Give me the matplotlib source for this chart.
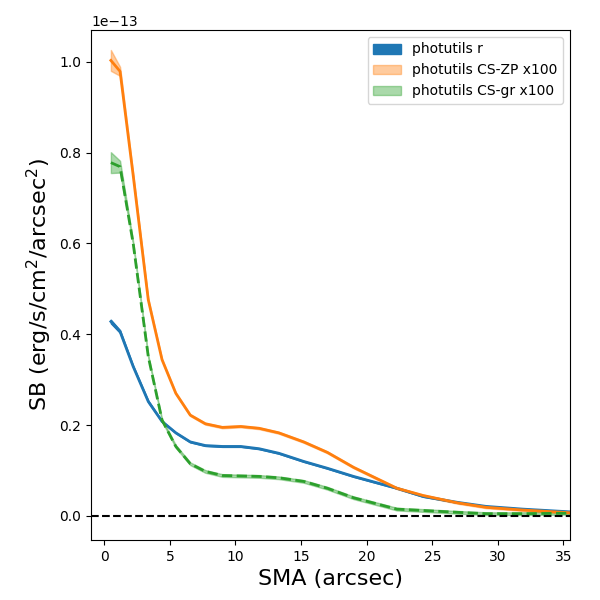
#!/usr/bin/env python3
"""Surface brightness profiles: photutils r vs scaled CS-ZP / CS-gr profiles."""
import numpy as np
import matplotlib
matplotlib.use("Agg")
import matplotlib.pyplot as plt

# semi-major axis (arcsec)
sma = [0.5, 1.2, 2.2, 3.35, 4.4, 5.45, 6.55, 7.7, 9.0, 10.4, 11.8,
       13.3, 15.2, 17.0, 19.0, 22.3, 24.3, 26.9, 29.1, 31.9, 35.5]

# surface brightness, in units of 1e-13 erg/s/cm2/arcsec2
sb_r = [0.428, 0.406, 0.329, 0.252, 0.208, 0.183, 0.163, 0.155, 0.153, 0.153, 0.148,
        0.138, 0.120, 0.105, 0.087, 0.061, 0.043, 0.030, 0.021, 0.015, 0.009]
sb_zp = [1.003, 0.979, 0.750, 0.476, 0.344, 0.270, 0.222, 0.203, 0.195, 0.197, 0.193,
         0.183, 0.163, 0.140, 0.107, 0.061, 0.045, 0.029, 0.019, 0.013, 0.007]
sb_gr = [0.778, 0.769, 0.600, 0.351, 0.211, 0.153, 0.115, 0.098, 0.089, 0.088, 0.087,
         0.084, 0.076, 0.061, 0.040, 0.015, 0.012, 0.008, 0.005, 0.005, 0.006]

# uncertainties (same units)
err_r = [0.004, 0.003, 0.002, 0.002, 0.001, 0.001, 0.001, 0.001, 0.001, 0.001, 0.001,
         0.001, 0.001, 0.001, 0.001, 0.001, 0.001, 0.001, 0.001, 0.001, 0.001]
err_zp = [0.023, 0.010, 0.004, 0.003, 0.002, 0.002, 0.002, 0.002, 0.002, 0.002, 0.002,
          0.002, 0.002, 0.002, 0.002, 0.002, 0.002, 0.002, 0.002, 0.002, 0.002]
err_gr = [0.023, 0.013, 0.004, 0.003, 0.003, 0.003, 0.003, 0.003, 0.003, 0.003, 0.003,
          0.003, 0.003, 0.003, 0.003, 0.003, 0.003, 0.003, 0.003, 0.003, 0.003]

SCALE = 1e-13

x = np.array(sma)
r = np.array(sb_r) * SCALE
zp = np.array(sb_zp) * SCALE
gr = np.array(sb_gr) * SCALE
er = np.array(err_r) * SCALE
ezp = np.array(err_zp) * SCALE
egr = np.array(err_gr) * SCALE

fig = plt.figure(figsize=(6, 6), dpi=100)
ax = fig.add_axes([0.152, 0.1, 0.798, 0.85])

ax.fill_between(x, r - er, r + er, color="C0", alpha=1.0, label="photutils r")
ax.plot(x, r, color="C0", lw=2)
ax.fill_between(x, zp - ezp, zp + ezp, color="C1", alpha=0.4, label="photutils CS-ZP x100")
ax.plot(x, zp, color="C1", lw=2)
ax.fill_between(x, gr - egr, gr + egr, color="C2", alpha=0.4, label="photutils CS-gr x100")
ax.plot(x, gr, color="C2", lw=2, ls="--")

ax.axhline(0, color="k", ls="--", lw=1.5)

ax.set_xlim(-1.0, 35.5)
ax.set_ylim(-0.053e-13, 1.07e-13)
ax.set_xlabel("SMA (arcsec)", fontsize=16)
ax.set_ylabel(r"SB (erg/s/cm$^2$/arcsec$^2$)", fontsize=16)
ax.legend(loc="upper right")

fig.savefig("out.png", dpi=100)
